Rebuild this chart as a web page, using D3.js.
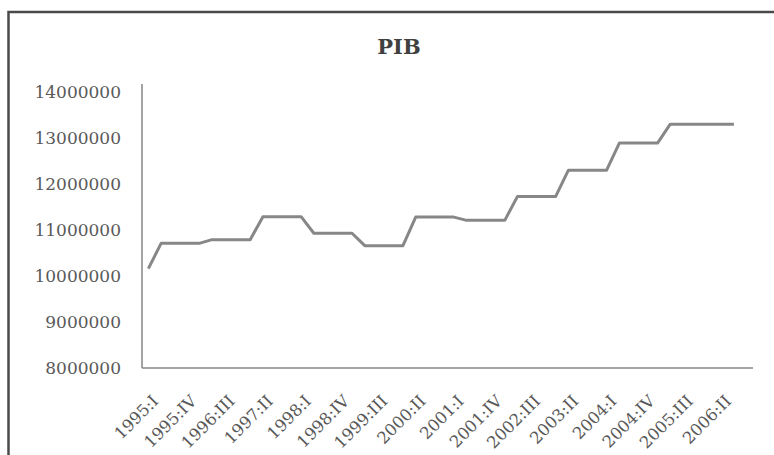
<!DOCTYPE html>
<html>
<head>
<meta charset="utf-8">
<script src="https://cdn.jsdelivr.net/npm/d3@7"></script>
<style>
html,body{margin:0;padding:0;background:#fff;overflow:hidden;}
svg{display:block;}
</style>
</head>
<body>
<svg id="chart" width="774" height="455"></svg>
<script>
const categories = [
  "1995:I","1995:II","1995:III","1995:IV",
  "1996:I","1996:II","1996:III","1996:IV",
  "1997:I","1997:II","1997:III","1997:IV",
  "1998:I","1998:II","1998:III","1998:IV",
  "1999:I","1999:II","1999:III","1999:IV",
  "2000:I","2000:II","2000:III","2000:IV",
  "2001:I","2001:II","2001:III","2001:IV",
  "2002:I","2002:II","2002:III","2002:IV",
  "2003:I","2003:II","2003:III","2003:IV",
  "2004:I","2004:II","2004:III","2004:IV",
  "2005:I","2005:II","2005:III","2005:IV",
  "2006:I","2006:II","2006:III","2006:IV"
];
const pib = [
  10160000,
  10710000,10710000,10710000,10710000,
  10790000,10790000,10790000,10790000,
  11290000,11290000,11290000,11290000,
  10930000,10930000,10930000,10930000,
  10660000,10660000,10660000,10660000,
  11280000,11280000,11280000,11280000,
  11210000,11210000,11210000,11210000,
  11730000,11730000,11730000,11730000,
  12300000,12300000,12300000,12300000,
  12890000,12890000,12890000,12890000,
  13300000,13300000,13300000,13300000,13300000,13300000
];
const yTicks = [8000000,9000000,10000000,11000000,12000000,13000000,14000000];
const shownLabels = ["1995:I","1995:IV","1996:III","1997:II","1998:I","1998:IV","1999:III","2000:II","2001:I","2001:IV","2002:III","2003:II","2004:I","2004:IV","2005:III","2006:II"];
const title = "PIB";

const svg = d3.select("#chart");
const font = "'DejaVu Serif', serif";

// outer frame (cropped on right and bottom)
svg.append("rect")
  .attr("x", 8.5).attr("y", 12).attr("width", 900).attr("height", 600)
  .attr("fill", "none").attr("stroke", "#4a4a4a").attr("stroke-width", 2.5);

const x0 = 142, x1 = 753, yBottom = 368, yTop = 92;

const x = d3.scaleBand().domain(categories).range([x0, x1]).padding(0);
const y = d3.scaleLinear().domain([8000000, 14000000]).range([yBottom, yTop]);

// title
svg.append("text")
  .attr("x", 399).attr("y", 54)
  .attr("text-anchor", "middle")
  .attr("font-family", font).attr("font-weight", "bold")
  .attr("font-size", 21).attr("fill", "#404040")
  .text(title);

// y axis
const yAxis = d3.axisLeft(y).tickValues(yTicks).tickSize(0).tickPadding(21)
  .tickFormat(d3.format("d"));
const gy = svg.append("g").attr("transform", `translate(${x0},0)`).call(yAxis);
gy.select(".domain").remove();
gy.selectAll("text").attr("font-family", font).attr("font-size", 17).attr("fill", "#595959");
svg.append("line").attr("x1", x0).attr("x2", x0).attr("y1", 84).attr("y2", yBottom)
  .attr("stroke", "#868686").attr("stroke-width", 1.5);

// x axis
const xAxis = d3.axisBottom(x).tickSize(0).tickValues(shownLabels);
const gx = svg.append("g").attr("transform", `translate(0,${yBottom})`).call(xAxis);
gx.select(".domain").remove();
gx.selectAll("text")
  .attr("font-family", font).attr("font-size", 16.5).attr("fill", "#595959")
  .attr("text-anchor", "end")
  .attr("x", 0).attr("y", 0).attr("dy", "0.35em")
  .attr("transform", "translate(7,30) rotate(-45)");
svg.append("line").attr("x1", x0).attr("x2", x1).attr("y1", yBottom).attr("y2", yBottom)
  .attr("stroke", "#868686").attr("stroke-width", 1.5);

// line
const line = d3.line()
  .x((d, i) => x(categories[i]) + x.bandwidth() / 2)
  .y(d => y(d));
svg.append("path").datum(pib)
  .attr("d", line)
  .attr("fill", "none").attr("stroke", "#878787").attr("stroke-width", 3)
  .attr("stroke-linejoin", "round");
</script>
</body>
</html>
